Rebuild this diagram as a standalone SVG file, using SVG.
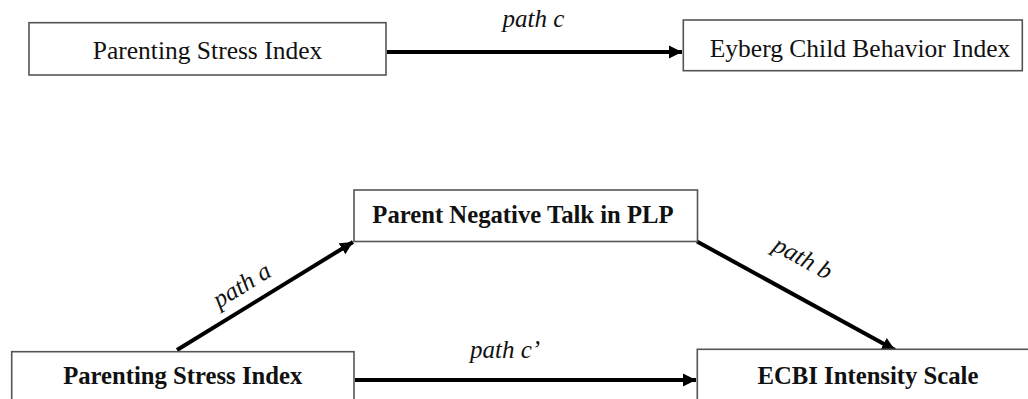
<svg xmlns="http://www.w3.org/2000/svg" width="1028" height="399" viewBox="0 0 1028 399">
  <style>
    .box { fill: #ffffff; stroke: #555555; stroke-width: 1.6; }
    .lbl { font-family: "Liberation Serif", "Times New Roman", serif; font-size: 25.5px; fill: #111111; text-anchor: middle; }
    .bold { font-weight: bold; font-size: 24.7px; }
    .path { font-family: "Liberation Serif", "Times New Roman", serif; font-style: italic; font-size: 25px; fill: #111111; text-anchor: middle; }
    .conn { stroke: #000000; stroke-width: 4; fill: none; }
  </style>
  <defs>
    <marker id="arrow" markerUnits="userSpaceOnUse" markerWidth="14" markerHeight="14" viewBox="0 0 14 14" refX="13" refY="7" orient="auto">
      <path d="M0,0.5 L13,7 L0,13.5 Z" fill="#000000"/>
    </marker>
  </defs>
  <rect width="1028" height="399" fill="#ffffff"/>

  <g id="connectors">
    <line class="conn" x1="387" y1="52" x2="682" y2="52" marker-end="url(#arrow)"/>
    <line class="conn" x1="177" y1="350" x2="353" y2="242" marker-end="url(#arrow)"/>
    <line class="conn" x1="697" y1="241.5" x2="895" y2="350" marker-end="url(#arrow)"/>
    <line class="conn" x1="355" y1="380" x2="696" y2="380" marker-end="url(#arrow)"/>
  </g>

  <g id="labels">
    <text class="path" x="533.5" y="27">path c</text>
    <text class="path" transform="translate(246,292) rotate(-31.5)">path a</text>
    <text class="path" transform="translate(799,265) rotate(29)">path b</text>
    <text class="path" x="505" y="358">path c’</text>
  </g>

  <g id="node-psi-top">
    <rect class="box" x="29" y="22.7" width="357" height="52.3"/>
    <text class="lbl" x="207.5" y="58.5">Parenting Stress Index</text>
  </g>

  <g id="node-ecbi-top">
    <rect class="box" x="683.3" y="20" width="339" height="50.7"/>
    <text class="lbl" x="860" y="56.5">Eyberg Child Behavior Index</text>
  </g>

  <g id="node-negtalk">
    <rect class="box" x="354" y="190" width="343.5" height="51.5"/>
    <text class="lbl bold" x="523" y="223">Parent Negative Talk in PLP</text>
  </g>

  <g id="node-psi-bottom">
    <rect class="box" x="11.7" y="351.7" width="342.3" height="60"/>
    <text class="lbl bold" x="182.7" y="383.5">Parenting Stress Index</text>
  </g>

  <g id="node-ecbi-bottom">
    <rect class="box" x="697.3" y="349.3" width="342" height="60"/>
    <text class="lbl bold" x="868" y="383.5">ECBI Intensity Scale</text>
  </g>
</svg>
